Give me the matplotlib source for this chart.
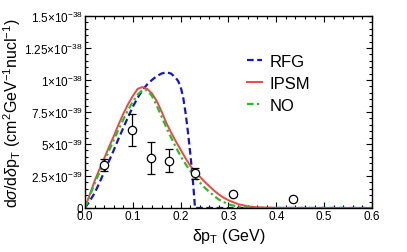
import numpy as np
import matplotlib
matplotlib.use('Agg')
import matplotlib.pyplot as plt
from matplotlib.ticker import MultipleLocator, FixedLocator, FixedFormatter

plt.rcParams['font.family'] = ['Liberation Sans', 'DejaVu Sans']
plt.rcParams['mathtext.fontset'] = 'custom'
plt.rcParams['mathtext.rm'] = 'Liberation Sans'
plt.rcParams['mathtext.it'] = 'Liberation Sans:italic'

# curves, in units of 1e-39 cm^2/GeV/nucleon
rfg_x = [0, 0.01, 0.02, 0.03, 0.04, 0.05, 0.06, 0.07, 0.08, 0.09, 0.10, 0.11, 0.12,
         0.13, 0.14, 0.15, 0.16, 0.17, 0.18, 0.19, 0.195, 0.20, 0.205, 0.21, 0.215,
         0.22, 0.225, 0.228, 0.23, 0.6]
rfg_y = [0, 0.55, 1.15, 1.95, 2.8, 3.65, 4.5, 5.4, 6.25, 7.1, 7.9, 8.6, 9.2,
         9.65, 10.0, 10.3, 10.5, 10.6, 10.5, 10.15, 9.9, 9.45, 8.7, 7.5, 6.0,
         4.3, 2.4, 1.0, 0, 0]

ipsm_x = [0, 0.01, 0.02, 0.03, 0.04, 0.05, 0.06, 0.07, 0.08, 0.09, 0.10, 0.11, 0.12,
          0.13, 0.14, 0.15, 0.16, 0.17, 0.18, 0.19, 0.20, 0.21, 0.22, 0.23, 0.24,
          0.25, 0.26, 0.27, 0.28, 0.29, 0.30, 0.32, 0.34, 0.36, 0.38, 0.40, 0.45, 0.6]
ipsm_y = [0, 1.05, 2.1, 3.0, 3.85, 4.75, 5.6, 6.5, 7.35, 8.1, 8.75, 9.3, 9.45,
          9.3, 8.95, 8.35, 7.55, 6.65, 5.9, 5.2, 4.55, 3.9, 3.3, 2.85, 2.45,
          2.05, 1.7, 1.35, 1.05, 0.8, 0.6, 0.3, 0.13, 0.05, 0.02, 0.005, 0, 0]

no_x = [0, 0.01, 0.02, 0.03, 0.04, 0.05, 0.06, 0.07, 0.08, 0.09, 0.10, 0.11, 0.12,
        0.13, 0.14, 0.15, 0.16, 0.17, 0.18, 0.19, 0.20, 0.21, 0.22, 0.23, 0.24,
        0.25, 0.26, 0.27, 0.28, 0.30, 0.32, 0.34, 0.36, 0.40, 0.6]
no_y = [0, 0.95, 1.9, 2.75, 3.6, 4.45, 5.3, 6.1, 6.9, 7.65, 8.3, 8.85, 9.2,
        9.2, 8.75, 8.0, 7.15, 6.3, 5.5, 4.75, 4.05, 3.45, 2.9, 2.4, 2.0,
        1.6, 1.25, 0.95, 0.65, 0.28, 0.1, 0.03, 0.01, 0, 0]

# data points
data_x = [0.040, 0.099, 0.137, 0.176, 0.229, 0.310, 0.434]
data_y = [3.36, 6.1, 3.9, 3.7, 2.71, 1.1, 0.70]
data_err = [0.5, 1.24, 1.25, 0.9, 0.45, 0.15, 0.1]

ytick_vals = [0, 2.5, 5, 7.5, 10, 12.5, 15]
ytick_labels = ['0', r'2.5$\times$10$^{\mathrm{-39}}$', r'5$\times$10$^{\mathrm{-39}}$',
                r'7.5$\times$10$^{\mathrm{-39}}$', r'1$\times$10$^{\mathrm{-38}}$',
                r'1.25$\times$10$^{\mathrm{-38}}$', r'1.5$\times$10$^{\mathrm{-38}}$']
xtick_labels = ['0.0', '0.1', '0.2', '0.3', '0.4', '0.5', '0.6']

fig = plt.figure(figsize=(4.07, 2.53), dpi=100)
ax = fig.add_axes([0.2088, 0.174, 0.7052, 0.759])

ax.plot(rfg_x, rfg_y, color='#1515d0', ls=(0, (3, 1.6)), lw=1.6, label='RFG')
ax.plot(ipsm_x, ipsm_y, color='#f04545', ls='-', lw=1.4, label='IPSM')
ax.plot(no_x, no_y, color='#22c022', ls=(0, (3, 1.5, 1, 1.5)), lw=1.6, label='NO')
ax.errorbar(data_x, data_y, yerr=data_err, fmt='o', mfc='white', mec='black',
            ecolor='black', ms=6, mew=0.9, elinewidth=0.9, capsize=3, capthick=0.9,
            zorder=5)

ax.set_xlim(0, 0.6)
ax.set_ylim(0, 15)
ax.xaxis.set_major_locator(FixedLocator([0, 0.1, 0.2, 0.3, 0.4, 0.5, 0.6]))
ax.xaxis.set_major_formatter(FixedFormatter(xtick_labels))
ax.xaxis.set_minor_locator(MultipleLocator(0.02))
ax.yaxis.set_major_locator(FixedLocator(ytick_vals))
ax.yaxis.set_major_formatter(FixedFormatter(ytick_labels))
ax.yaxis.set_minor_locator(MultipleLocator(0.5))
ax.tick_params(which='both', direction='in', top=True, right=True, width=0.8)
ax.tick_params(which='major', length=4, labelsize=8.5, pad=1.5)
ax.tick_params(which='minor', length=2)
for s in ax.spines.values():
    s.set_linewidth(1.0)

ax.set_xlabel(r'$\mathrm{\delta p_T}$ (GeV)', fontsize=11.5, labelpad=2.5)
ax.set_ylabel(r'd$\sigma$/d$\delta$p$_{\mathrm{T}}$ (cm$^{\mathrm{2}}$GeV$^{\mathrm{-1}}$nucl$^{\mathrm{-1}}$)',
              fontsize=11.5, labelpad=1)

ax.legend(loc='upper left', bbox_to_anchor=(0.537, 0.845), frameon=False, fontsize=12,
          handlelength=0.85, handletextpad=0.5, labelspacing=0.42, borderpad=0)

fig.savefig('out.png', dpi=100)
